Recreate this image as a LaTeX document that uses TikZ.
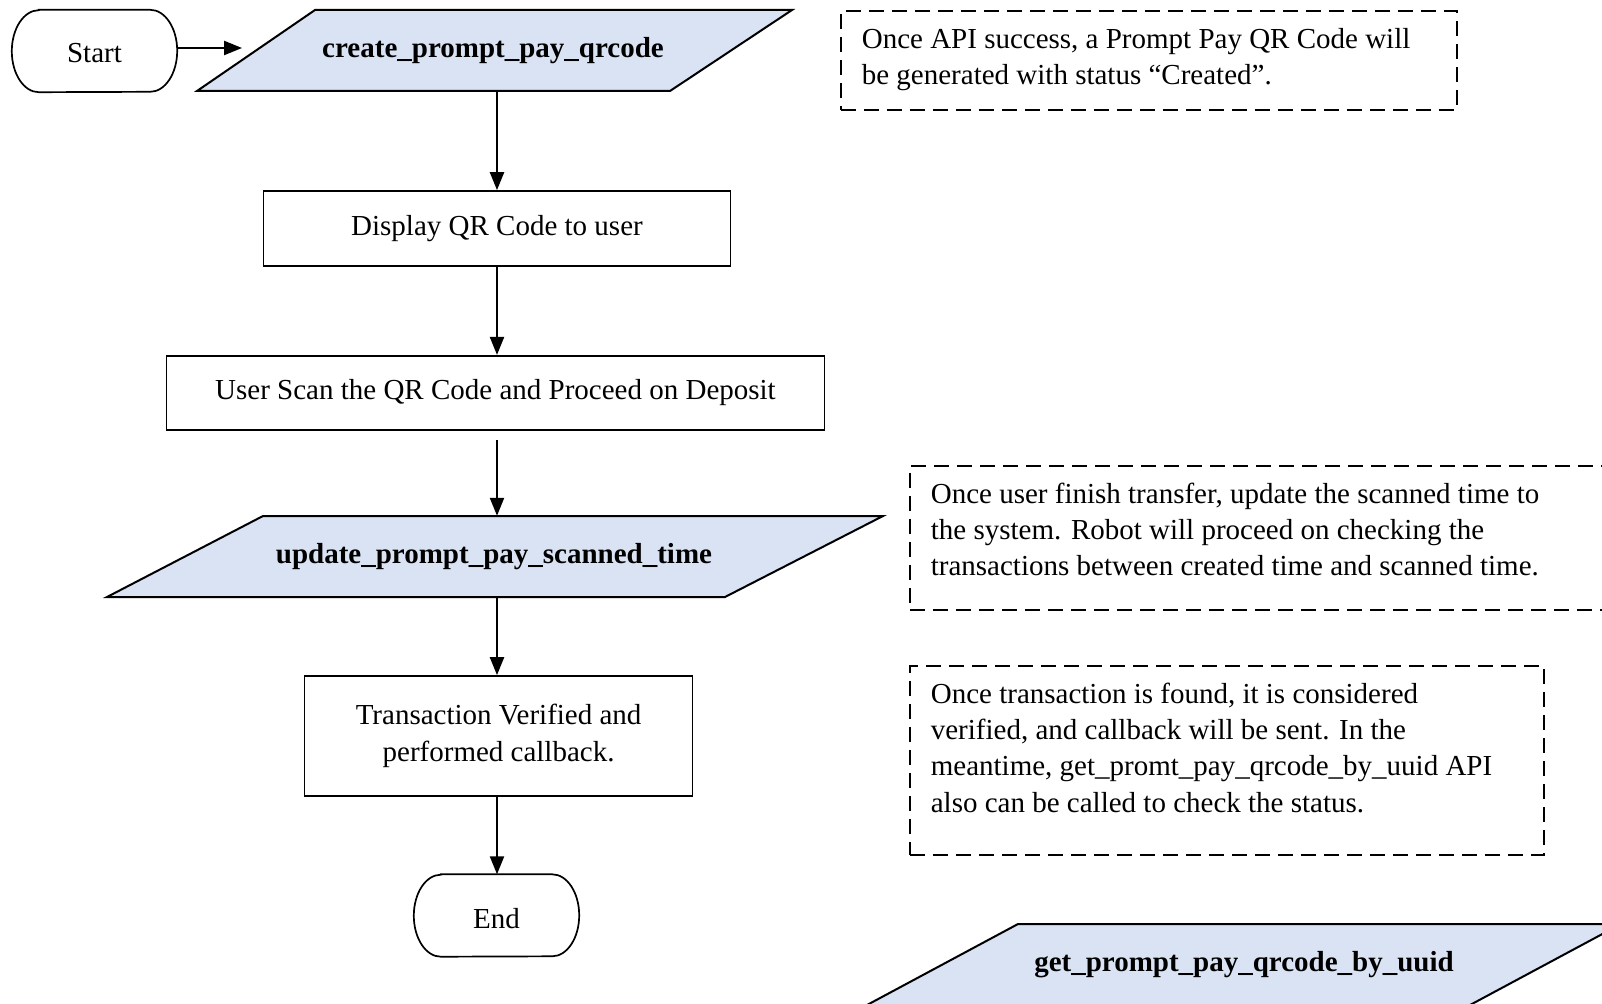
\documentclass[tikz,border=0pt]{standalone}
\usepackage{fontspec}
\setmainfont{Liberation Serif}
\usetikzlibrary{arrows.meta}
\definecolor{parafill}{HTML}{DAE3F3}
\newcommand\drawterm[1]{%
  \draw[termline] ([xshift=27pt]#1.north west) -- ([xshift=-27pt]#1.north east)
    arc[start angle=90,end angle=-90,x radius=27pt,y radius=41pt]
    -- ([xshift=27pt]#1.south west)
    arc[start angle=270,end angle=90,x radius=27pt,y radius=41pt] -- cycle;}
\begin{document}
\begin{tikzpicture}[x=1pt,y=-1pt,
  every node/.style={font=\fontsize{29}{36.3}\selectfont},
  term/.style={minimum width=165pt, minimum height=82pt, inner sep=0pt},
  termline/.style={line width=1.7pt},
  procbox/.style={draw, line width=1.7pt, inner sep=0pt, align=center},
  para/.style={draw, fill=parafill, line width=2pt, line join=miter},
  paratext/.style={font=\fontsize{29}{36.3}\selectfont\bfseries, inner sep=0pt, minimum height=81pt},
  note/.style={draw, dash pattern=on 15pt off 8pt, line width=1.7pt, inner xsep=21pt, inner ysep=12pt, anchor=north west},
  arr/.style={-{Triangle[length=18pt,width=14pt]}, line width=2.2pt}]
\useasboundingbox (0,0) rectangle (1602,1003);
\clip (0,0) rectangle (1602,1003);

% terminators
\node[term] (start) at (94.5,51) {\smash{\raisebox{-12pt}{Start}}};
\drawterm{start}
\node[term] (end) at (496.5,915.5) {\smash{\raisebox{-13pt}{End}}};
\drawterm{end}

% parallelograms
\draw[para] (315,10) -- (792,10) -- (670,91) -- (197,91) -- cycle;
\node[paratext] (create) at (493,50.5) {create\_prompt\_pay\_qrcode};
\draw[para] (263,516) -- (883,516) -- (725,597) -- (107,597) -- cycle;
\node[paratext] (update) at (494,556.5) {update\_prompt\_pay\_scanned\_time};
\draw[para] (1018,924) -- (1621,924) -- (1470,1005) -- (867,1005) -- cycle;
\node[paratext] (getqr) at (1244,964.5) {get\_prompt\_pay\_qrcode\_by\_uuid};

% process boxes
\node[procbox, minimum width=467pt, minimum height=75pt] (display) at (497,228.5) {Display QR Code to user};
\node[procbox, minimum width=658pt, minimum height=74.5pt] (scan) at (495.5,393) {User Scan the QR Code and Proceed on Deposit};
\node[procbox, minimum width=388pt, minimum height=120pt] (trans) at (498.6,736) {Transaction Verified and\\performed callback.};

% notes
\node[note] (note1) at (840,10) {\parbox[c][75pt][t]{574pt}{\raggedright\strut Once API success, a Prompt Pay QR Code will\\be generated with status “Created”.}};
\node[note] (note2) at (909,465) {\parbox[c][120pt][t]{699pt}{\raggedright\strut Once user finish transfer, update the scanned time to\\the system. Robot will proceed on checking the\\transactions between created time and scanned time.}};
\node[note] (note3) at (909,665) {\parbox[c][165pt][t]{592pt}{\raggedright\strut Once transaction is found, it is considered\\verified, and callback will be sent. In the\\meantime, get\_promt\_pay\_qrcode\_by\_uuid API\\also can be called to check the status.}};

% connectors
\draw[arr, shorten >=80pt] ([yshift=3pt]start.east) -- ([yshift=3pt]start.east -| create.west);
\draw[arr] (create.south -| display.north) -- (display.north);
\draw[arr] (display.south) -- (display.south |- scan.north);
\draw[arr, shorten <=9pt] (display.south |- scan.south) -- (display.south |- update.north);
\draw[arr] (display.south |- update.south) -- (display.south |- trans.north);
\draw[arr] (display.south |- trans.south) -- (display.south |- end.north);
\end{tikzpicture}
\end{document}
